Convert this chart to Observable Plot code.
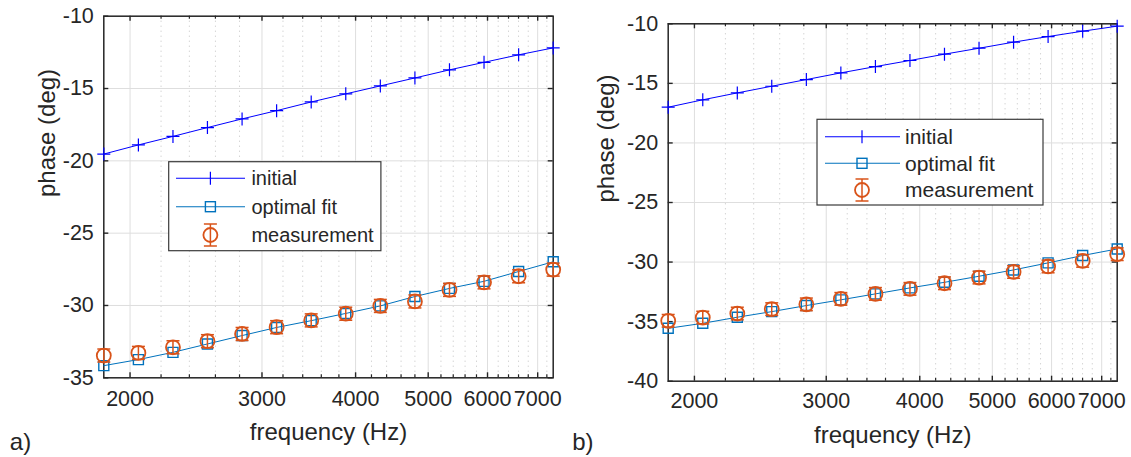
<!DOCTYPE html>
<html><head><meta charset="utf-8">
<script src="https://cdn.jsdelivr.net/npm/d3@7"></script>
<script src="https://cdn.jsdelivr.net/npm/@observablehq/plot@0.6"></script>
<style>
html,body{margin:0;padding:0;background:#fff;}
#wrap{position:relative;width:1131px;height:457px;overflow:hidden;background:#fff;}
#wrap > svg{position:absolute;top:0;overflow:visible;}
</style></head><body><div id="wrap"></div>
<script>
// ---------- data ----------
const frequencies = [1845, 2052, 2282, 2537, 2822, 3138, 3490, 3881, 4316, 4800, 5338, 5936, 6602, 7342];
const xMajorTicks = [2000, 3000, 4000, 5000, 6000, 7000];
const xMinorTicks = [2200, 2400, 2600, 2800, 3200, 3400, 3600, 3800, 4200, 4400, 4600, 4800, 5200, 5400, 5600, 5800, 6200, 6400, 6600, 6800, 7200];
const yTicksA = [-35, -30, -25, -20, -15, -10];
const yTicksB = [-40, -35, -30, -25, -20, -15, -10];

const initialA = [-19.53, -18.90, -18.31, -17.70, -17.10, -16.53, -15.93, -15.37, -14.82, -14.27, -13.71, -13.19, -12.67, -12.19];
const fitA     = [-34.16, -33.74, -33.24, -32.66, -32.08, -31.52, -31.05, -30.55, -30.03, -29.38, -28.82, -28.33, -27.65, -26.98];
const measA    = [-33.46, -33.28, -32.89, -32.47, -31.97, -31.50, -31.03, -30.57, -30.03, -29.72, -28.92, -28.40, -27.98, -27.52];
const errA     = [0.45, 0.45, 0.45, 0.45, 0.45, 0.45, 0.45, 0.45, 0.45, 0.45, 0.45, 0.45, 0.45, 0.45];

const initialB = [-17.00, -16.38, -15.80, -15.24, -14.68, -14.12, -13.59, -13.08, -12.55, -12.05, -11.54, -11.07, -10.62, -10.20];
const fitB     = [-35.56, -35.14, -34.63, -34.16, -33.65, -33.17, -32.67, -32.17, -31.70, -31.19, -30.66, -30.07, -29.45, -28.90];
const measB    = [-34.93, -34.66, -34.32, -33.95, -33.55, -33.09, -32.67, -32.25, -31.78, -31.30, -30.83, -30.37, -29.90, -29.34];
const errB     = [0.53, 0.53, 0.53, 0.53, 0.53, 0.53, 0.53, 0.53, 0.53, 0.53, 0.53, 0.53, 0.53, 0.53];

const seriesNames = ["initial", "optimal fit", "measurement"];
const panelLabels = ["a)", "b)"];
const xLabel = "frequency (Hz)";
const yLabel = "phase (deg)";

// ---------- styling ----------
const C_INIT = "#0000ff", C_FIT = "#0072bd", C_MEAS = "#d95319", C_TEXT = "#262626";
const FONT = "Liberation Sans, Arial, Helvetica, sans-serif";

const plusSym = {draw(ctx, size) {const r = Math.sqrt(size / Math.PI); ctx.moveTo(-r, 0); ctx.lineTo(r, 0); ctx.moveTo(0, -r); ctx.lineTo(0, r);}};
const squareSym = {draw(ctx, size) {const r = Math.sqrt(size / Math.PI); ctx.rect(-r, -r, 2 * r, 2 * r);}};
const capSym = {draw(ctx, size) {const r = Math.sqrt(size / Math.PI); ctx.moveTo(-r, 0); ctx.lineTo(r, 0);}};

function table(init, fit, meas, err) {
  return frequencies.map((f, i) => ({f, init: init[i], fit: fit[i], meas: meas[i], lo: meas[i] - err[i], hi: meas[i] + err[i]}));
}

function panel(cfg) {
  const data = table(cfg.init, cfg.fit, cfg.meas, cfg.err);
  const innerH = cfg.height - cfg.mt - cfg.mb;
  const innerW = cfg.width - cfg.ml - cfg.mr;
  const svg = Plot.plot({
    width: cfg.width, height: cfg.height,
    marginLeft: cfg.ml, marginRight: cfg.mr, marginTop: cfg.mt, marginBottom: cfg.mb,
    style: {fontFamily: FONT, fontSize: "21.5px", color: C_TEXT, background: "transparent", overflow: "visible"},
    x: {type: "log", domain: [frequencies[0], frequencies[frequencies.length - 1]], label: null},
    y: {domain: cfg.ydomain, label: null},
    marks: [
      // grid
      Plot.ruleX(xMinorTicks, {stroke: "#c2c2c2", strokeWidth: 1, strokeDasharray: "1,4"}),
      Plot.ruleX(xMajorTicks, {stroke: "#dedede", strokeWidth: 1}),
      Plot.ruleY(cfg.yticks, {stroke: "#dedede", strokeWidth: 1}),
      // inward ticks
      Plot.ruleX(xMajorTicks, {insetTop: innerH - 5, stroke: C_TEXT, strokeWidth: 1.4}),
      Plot.ruleX(xMajorTicks, {insetBottom: innerH - 5, stroke: C_TEXT, strokeWidth: 1.4}),
      Plot.ruleX(xMinorTicks, {insetTop: innerH - 3, stroke: C_TEXT, strokeWidth: 1.2}),
      Plot.ruleX(xMinorTicks, {insetBottom: innerH - 3, stroke: C_TEXT, strokeWidth: 1.2}),
      Plot.ruleY(cfg.yticks, {insetRight: innerW - 5, stroke: C_TEXT, strokeWidth: 1.4}),
      Plot.ruleY(cfg.yticks, {insetLeft: innerW - 5, stroke: C_TEXT, strokeWidth: 1.4}),
      // axes labels
      Plot.axisX({ticks: xMajorTicks, tickFormat: d => String(d), tickSize: 0, tickPadding: cfg.xpad, fontSize: 21.5, label: null}),
      Plot.axisY({ticks: cfg.yticks, tickFormat: d => String(d), tickSize: 0, tickPadding: 10, fontSize: 21.5, label: null}),
      Plot.text([xLabel], {frameAnchor: "bottom", dy: cfg.xlabDy, fontSize: 24, fill: C_TEXT, lineAnchor: "middle"}),
      Plot.text([yLabel], {frameAnchor: "left", dx: cfg.ylabDx, rotate: -90, fontSize: 24, fill: C_TEXT}),
      Plot.text([cfg.tag], {frameAnchor: "bottom-left", dx: cfg.tagDx, dy: cfg.tagDy, fontSize: 24, fill: C_TEXT, textAnchor: "start", lineAnchor: "middle"}),
      // frame
      Plot.frame({stroke: C_TEXT, strokeWidth: 1.5}),
      // initial
      Plot.line(data, {x: "f", y: "init", stroke: C_INIT, strokeWidth: 1}),
      Plot.dot(data, {x: "f", y: "init", symbol: plusSym, r: 6.5, stroke: C_INIT, fill: "none", strokeWidth: 1.2}),
      // optimal fit
      Plot.line(data, {x: "f", y: "fit", stroke: C_FIT, strokeWidth: 1}),
      Plot.dot(data, {x: "f", y: "fit", symbol: squareSym, r: 5, stroke: C_FIT, fill: "none", strokeWidth: 1.4}),
      // measurement with error bars
      Plot.ruleX(data, {x: "f", y1: "lo", y2: "hi", stroke: C_MEAS, strokeWidth: 1.5}),
      Plot.dot(data, {x: "f", y: "lo", symbol: capSym, r: 6.5, stroke: C_MEAS, fill: "none", strokeWidth: 1.5}),
      Plot.dot(data, {x: "f", y: "hi", symbol: capSym, r: 6.5, stroke: C_MEAS, fill: "none", strokeWidth: 1.5}),
      Plot.dot(data, {x: "f", y: "meas", r: 7, stroke: C_MEAS, fill: "none", strokeWidth: 1.8})
    ]
  });
  drawLegend(svg, cfg.legend);
  svg.style.left = cfg.left + "px";
  return svg;
}

function drawLegend(svg, L) {
  const g = d3.select(svg).append("g").style("font-family", FONT).style("font-size", L.fs + "px");
  g.append("rect").attr("x", L.x).attr("y", L.y).attr("width", L.w).attr("height", L.h)
    .attr("fill", "#fff").attr("stroke", "#3a3a3a").attr("stroke-width", 1.2);
  const colors = [C_INIT, C_FIT, C_MEAS];
  seriesNames.forEach((name, i) => {
    const cy = L.rows[i];
    if (i < 2) {
      g.append("line").attr("x1", L.lx1).attr("x2", L.lx2).attr("y1", cy).attr("y2", cy)
        .attr("stroke", colors[i]).attr("stroke-width", 1.1);
    }
    if (i === 0) {
      g.append("line").attr("x1", L.mx).attr("x2", L.mx).attr("y1", cy - 6.5).attr("y2", cy + 6.5)
        .attr("stroke", C_INIT).attr("stroke-width", 1.2);
    } else if (i === 1) {
      g.append("rect").attr("x", L.mx - 5).attr("y", cy - 5).attr("width", 10).attr("height", 10)
        .attr("fill", "none").attr("stroke", C_FIT).attr("stroke-width", 1.4);
    } else {
      g.append("line").attr("x1", L.mx).attr("x2", L.mx).attr("y1", cy - 11).attr("y2", cy + 11).attr("stroke", C_MEAS).attr("stroke-width", 1.5);
      g.append("line").attr("x1", L.mx - 6.5).attr("x2", L.mx + 6.5).attr("y1", cy - 11).attr("y2", cy - 11).attr("stroke", C_MEAS).attr("stroke-width", 1.5);
      g.append("line").attr("x1", L.mx - 6.5).attr("x2", L.mx + 6.5).attr("y1", cy + 11).attr("y2", cy + 11).attr("stroke", C_MEAS).attr("stroke-width", 1.5);
      g.append("circle").attr("cx", L.mx).attr("cy", cy).attr("r", 7).attr("fill", "none").attr("stroke", C_MEAS).attr("stroke-width", 1.8);
    }
    g.append("text").attr("x", L.tx).attr("y", cy).attr("dy", "0.35em")
      .style("text-anchor", "start").attr("fill", C_TEXT).text(name);
  });
}

const wrap = document.getElementById("wrap");
wrap.appendChild(panel({
  left: 0, width: 570, height: 457, ml: 103.3, mr: 17.3, mt: 15.7, mb: 79.7,
  ydomain: [-35, -10], yticks: yTicksA, init: initialA, fit: fitA, meas: measA, err: errA,
  xpad: 13, xlabDy: 55, ylabDx: -56, tag: panelLabels[0], tagDx: -94, tagDy: 65,
  legend: {x: 168.7, y: 161.7, w: 212.2, h: 89, rows: [178.3, 206.7, 235], lx1: 176, lx2: 245, mx: 210.4, tx: 251.4, fs: 20}
}));
wrap.appendChild(panel({
  left: 570, width: 561, height: 457, ml: 97.7, mr: 14.3, mt: 23.3, mb: 76.3,
  ydomain: [-40, -10], yticks: yTicksB, init: initialB, fit: fitB, meas: measB, err: errB,
  xpad: 12, xlabDy: 54, ylabDx: -62, tag: panelLabels[1], tagDx: -96, tagDy: 61,
  legend: {x: 247, y: 119.3, w: 226, h: 85.7, rows: [136.7, 163.3, 190], lx1: 255, lx2: 330, mx: 292, tx: 335, fs: 21}
}));
</script></body></html>
